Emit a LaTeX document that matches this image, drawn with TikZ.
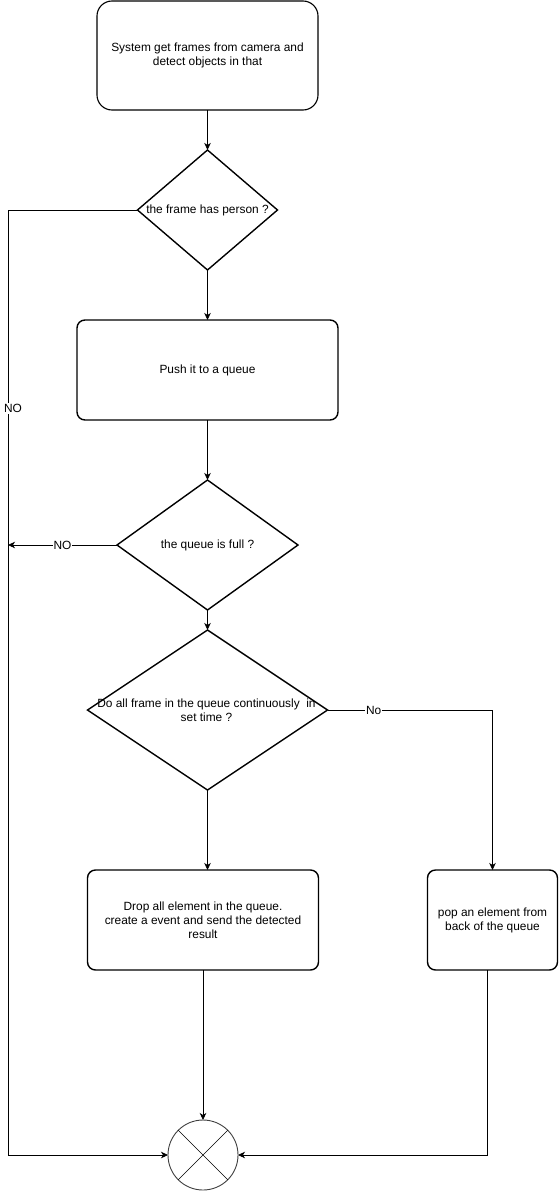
\documentclass[tikz,border=0pt]{standalone}
\usepackage{fontspec}
\setmainfont{Liberation Sans}
\usetikzlibrary{shapes.geometric, positioning, arrows.meta, calc}
\tikzset{
  startstop/.style={rectangle, rounded corners=15pt, minimum width=221pt, minimum height=109pt, outer sep=0pt, text centered, align=center, draw=black, line width=1.1pt},
  process/.style={rectangle, rounded corners=8pt, minimum height=100pt, outer sep=0pt, text centered, align=center, draw=black, line width=1.4pt},
  decision/.style={diamond, inner sep=0pt, outer sep=0pt, draw=black, line width=1.4pt},
  merge/.style={circle, minimum size=70pt, inner sep=0pt, outer sep=0pt, draw=black!75, line width=0.9pt},
  arrow/.style={line width=0.8pt, -{Stealth[length=7pt, width=6.5pt, inset=2pt]}},
  lbl/.style={fill=white, inner sep=1pt}
}
\begin{document}
\begin{tikzpicture}[x=1pt, y=1pt, every node/.style={font=\fontsize{11.9}{14}\selectfont}]
            \useasboundingbox (0,0) rectangle (559,-1191);

            \node (start1) [startstop] at (207.5,-55.5) {System get frames from camera and\\detect objects in that};
            \node (person1) [decision, below=40pt of start1, minimum width=140pt, minimum height=120pt, label={center:the frame has person ?}] {};
            \node (push1) [process, below=50pt of person1, minimum width=261pt] {Push it to a queue};
            \node (full1) [decision, below=60pt of push1, minimum width=181pt, minimum height=130pt, label={center:the queue is full ?}] {};
            \node (cont1) [decision, below=20pt of full1, minimum width=240pt, minimum height=160pt, label={[align=center, xshift=-1pt]center:{Do all frame in the queue continuously~ in\\set time ?}}] {};

            \node (drop1) [process, below=80pt of cont1, xshift=-4.5pt, minimum width=231pt] {Drop all element in the queue.\\create a event and send the detected\\result};
            \node (pop1) [process, right=109pt of drop1, minimum width=130pt] {pop an element from\\back of the queue};
            \node (end1) [merge, below=150pt of drop1] {};
            \draw [line width=0.5pt] (end1.45) -- (end1.225) (end1.135) -- (end1.-45);

            % rail on the left for the NO branches
            \coordinate (rail) at (8,0);

            \draw [arrow] (start1) -- (person1);
            \draw [arrow] (person1) -- (push1);
            \draw [arrow] (push1) -- (full1);
            \draw [arrow] (full1) -- (cont1);
            \draw [arrow] (cont1.south) -- (cont1.south |- drop1.north);
            \draw [arrow] (cont1.east) -| node[lbl, pos=0.14] {No} (pop1.north);

            \draw [arrow] (full1.west) -- node[lbl] {NO} (full1.west -| rail);
            \draw [arrow] (person1.west) -| node[lbl, pos=0.605, xshift=5pt] {NO} (rail |- end1) -- (end1.west);

            \draw [arrow] (drop1) -- (end1);
            \draw [arrow] ([xshift=-5pt]pop1.south) |- (end1.east);
        \end{tikzpicture}
\end{document}
